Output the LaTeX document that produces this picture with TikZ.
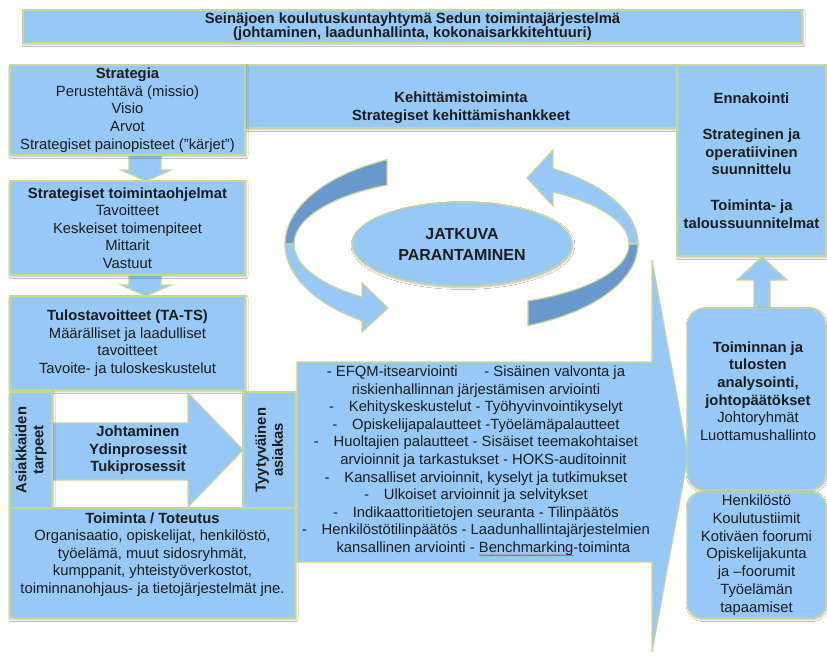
\documentclass[tikz,border=0pt]{standalone}
\usepackage{fontspec}
\setmainfont{Liberation Sans}
\usepackage{xcolor}
\usetikzlibrary{positioning,calc,shapes.geometric,shadows.blur,decorations.pathmorphing}
\definecolor{boxblue}{RGB}{150,200,248}
\definecolor{ribbondark}{RGB}{104,152,204}
\definecolor{boxedge}{RGB}{198,214,150}
\definecolor{ink}{RGB}{28,28,28}
\definecolor{spellred}{RGB}{220,60,60}
\newcommand{\spellmark}[1]{\setbox0\hbox{#1}\rlap{\tikz[baseline=0pt]\draw[spellred, line width=0.5pt, decorate, decoration={snake, amplitude=0.7pt, segment length=2.6pt}] (0pt,-2.8pt) -- (\wd0,-2.8pt);}\box0}
\tikzset{
  box/.style={draw=boxedge, fill=boxblue, line width=1.2pt, align=center, inner sep=0pt, outer sep=0pt, text=ink,
    font=\fontsize{14.8}{17.6}\selectfont, blur shadow={shadow xshift=1pt, shadow yshift=-1.5pt, shadow blur radius=2pt, shadow opacity=30}},
  roundbox/.style={box, rounded corners=18pt},
  blockarrow/.style={draw=boxedge, fill=boxblue, line width=1.2pt, line join=miter},
  ribbon/.style={blockarrow, fill=ribbondark},
  label/.style={align=center, inner sep=0pt, text=ink, font=\fontsize{14.8}{17.6}\selectfont},
  headlabel/.style={label, font=\fontsize{14.8}{17.6}\selectfont\bfseries},
  vertical/.style={box, rotate=90, font=\fontsize{14.8}{17}\selectfont\bfseries}
}
\begin{document}
\begin{tikzpicture}[x=1pt, y=-1pt]
  \fill[white] (0,0) rectangle (827,659);
  \useasboundingbox (0,0) rectangle (827,659);

  \node[box, minimum width=779, minimum height=33, font=\fontsize{14.8}{14}\selectfont\bfseries] (banner) at (412.5,26.5)
    {Seinäjoen koulutuskuntayhtymä Sedun toimintajärjestelmä\\(johtaminen, laadunhallinta, kokonaisarkkitehtuuri)};

  \node[box, minimum width=432, minimum height=63] (kehi) at (461,96.5) {};
  \node[headlabel] (kehitxt) at (461,107.5) {Kehittämistoiminta\\Strategiset kehittämishankkeet};

  \draw[blockarrow] (129,150) -- (161,150) -- (161,170) -- (171,170) -- (146,181) -- (121,170) -- (129,170) -- cycle;
  \node[box, minimum width=235, minimum height=90] (strat) at (127.5,110)
    {\textbf{Strategia}\\Perustehtävä (missio)\\Visio\\Arvot\\Strategiset painopisteet (”kärjet”)};

  \draw[blockarrow] (129,270) -- (161,270) -- (161,285) -- (171,285) -- (146,296) -- (121,285) -- (129,285) -- cycle;
  \node[box, minimum width=235, minimum height=94] (prog) at (127.5,228)
    {\textbf{Strategiset toimintaohjelmat}\\Tavoitteet\\Keskeiset toimenpiteet\\Mittarit\\Vastuut};

  \node[box, minimum width=235, minimum height=94] (tulos) at (127.5,343)
    {\textbf{Tulostavoitteet (TA-TS)}\\Määrälliset ja laadulliset\\tavoitteet\\Tavoite- ja tuloskeskustelut};

  \draw[blockarrow] (52,423) -- (188,423) -- (188,393) -- (243,450) -- (188,507) -- (188,480) -- (52,480) -- cycle;
  \node[headlabel] (prosessit) at (138,450.5) {Johtaminen\\Ydinprosessit\\Tukiprosessit};
  \node[vertical, minimum width=116, minimum height=42] (tarpeet) at (31,450) {Asiakkaiden\\tarpeet};
  \node[vertical, minimum width=116, minimum height=52] (asiakas) at (269,450) {Tyytyväinen\\asiakas};

  \node[box, minimum width=285, minimum height=110] (toteutus) at (152.5,563) {};
  \node[label] (toteutustxt) at (152.5,554.5)
    {\textbf{Toiminta / Toteutus}\\Organisaatio, opiskelijat, henkilöstö,\\työelämä, muut sidosryhmät,\\kumppanit, yhteistyöverkostot,\\toiminnanohjaus- ja tietojärjestelmät jne.};

  \draw[ribbon] plot[domain=244.9:180, samples=30] ({462+177*cos(\x)},{244+93*sin(\x)})
    -- plot[domain=180:243.5, samples=30] ({462+168*cos(\x)},{244+66*sin(\x)}) -- cycle;
  \draw[blockarrow] plot[domain=180:124.4, samples=30] ({462+177*cos(\x)},{244+93*sin(\x)})
    -- (362,332) -- (388,308) -- (362,283)
    -- plot[domain=126.5:180, samples=30] ({462+168*cos(\x)},{244+66*sin(\x)}) -- cycle;
  \draw[ribbon] plot[domain=68:0, samples=30] ({462+176*cos(\x)},{244+88*sin(\x)})
    -- plot[domain=0:66.7, samples=30] ({462+167*cos(\x)},{244+62*sin(\x)}) -- cycle;
  \draw[blockarrow] plot[domain=0:-58.9, samples=30] ({462+176*cos(\x)},{244+88*sin(\x)})
    -- (553,150) -- (527,178) -- (553,206)
    -- plot[domain=-57:0, samples=30] ({462+167*cos(\x)},{244+62*sin(\x)}) -- cycle;
  \node[box, ellipse, minimum width=220, minimum height=84, font=\fontsize{16}{21}\selectfont\bfseries] (jatkuva) at (462,244)
    {JATKUVA\\PARANTAMINEN};

  \draw[blockarrow] (297,362) -- (652,362) -- (652,260) -- (688,456) -- (652,652) -- (652,562) -- (297,562) -- cycle;
  \node[label] (arviointi) at (476,461)
    {- EFQM-itsearviointi\hspace{1.8em}- Sisäinen valvonta ja\\
     riskienhallinnan järjestämisen arviointi\\
     -\hspace{1em}Kehityskeskustelut - Työhyvinvointikyselyt\\
     -\hspace{1em}Opiskelijapalautteet -Työelämäpalautteet\\
     -\hspace{1em}Huoltajien palautteet - Sisäiset teemakohtaiset\\
     \hspace{1em}arvioinnit ja tarkastukset - HOKS-auditoinnit\\
     -\hspace{1em}Kansalliset arvioinnit, kyselyt ja tutkimukset\\
     -\hspace{1em}Ulkoiset arvioinnit ja selvitykset\\
     -\hspace{1em}Indikaattoritietojen seuranta - Tilinpäätös\\
     -\hspace{1em}Henkilöstötilinpäätös - Laadunhallintajärjestelmien\\
     \hspace{1em}kansallinen arviointi - \spellmark{Benchmarking}-toiminta};

  \node[box, minimum width=149, minimum height=191, font=\fontsize{14.8}{17.4}\selectfont\bfseries] (ennakointi) at (751.5,160.5)
    {Ennakointi\\[19pt]Strateginen ja\\operatiivinen\\suunnittelu\\[19pt]Toiminta- ja\\taloussuunnitelmat};

  \draw[blockarrow] (754,312) -- (754,280) -- (737,280) -- (762,257) -- (787,280) -- (770,280) -- (770,312) -- cycle;
  \node[roundbox, minimum width=139, minimum height=182] (analyysi) at (756.5,399) {};
  \node[label] (analyysitxt) at (758,391)
    {\textbf{Toiminnan ja}\\\textbf{tulosten}\\\textbf{analysointi,}\\\textbf{johtopäätökset}\\Johtoryhmät\\Luottamushallinto};
  \node[roundbox, rounded corners=15pt, minimum width=139, minimum height=126, font=\fontsize{14.8}{17.8}\selectfont] (foorumit) at (756.5,555)
    {Henkilöstö\\Koulutustiimit\\Kotiväen foorumi\\Opiskelijakunta\\ja –foorumit\\Työelämän\\tapaamiset};
\end{tikzpicture}
\end{document}
